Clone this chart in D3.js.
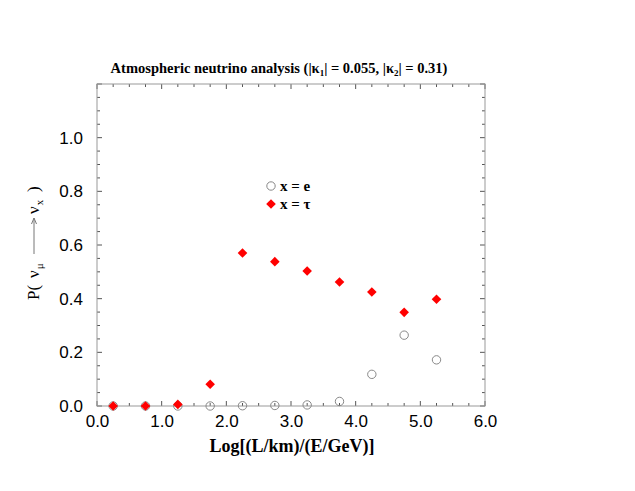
<!DOCTYPE html>
<html>
<head>
<meta charset="utf-8">
<script src="https://cdn.jsdelivr.net/npm/d3@7"></script>
<style>
  body { margin: 0; background: #fff; }
  svg { display: block; }
</style>
</head>
<body>
<div id="chart"></div>
<script>
// data
var xVals = [0.25, 0.75, 1.25, 1.75, 2.25, 2.75, 3.25, 3.75, 4.25, 4.75, 5.25];
var probE = [0, 0, 0, 0, 0.001, 0.002, 0.004, 0.017, 0.118, 0.264, 0.172];
var probTau = [0, 0, 0.006, 0.081, 0.570, 0.538, 0.503, 0.462, 0.425, 0.349, 0.398];
var xTicks = [0, 1, 2, 3, 4, 5, 6];
var yTicks = [0, 0.2, 0.4, 0.6, 0.8, 1.0];

var W = 635, H = 491;
var margin = {top: 84, right: 150, bottom: 85, left: 97};
var width = W - margin.left - margin.right,
    height = H - margin.top - margin.bottom;

var svg = d3.select("#chart").append("svg")
    .attr("width", W).attr("height", H);

var g = svg.append("g")
    .attr("transform", "translate(" + margin.left + "," + margin.top + ")");

var x = d3.scaleLinear().domain([0, 6]).range([0, width]);
var y = d3.scaleLinear().domain([0, 1.2]).range([height, 0]);

var frameColor = "#999";
var minorX = d3.range(0, 6.001, 0.25);
var minorY = d3.range(0, 1.2001, 0.05);
var isMajorX = d => Math.abs(d % 1) < 1e-6;
var isMajorY = d => Math.round(d * 100) % 20 === 0;

// bottom axis, ticks point inward
var axB = g.append("g").attr("transform", "translate(0," + height + ")");
axB.selectAll("line.t").data(minorX).enter().append("line")
    .attr("x1", d => x(d)).attr("x2", d => x(d))
    .attr("y1", 0).attr("y2", d => isMajorX(d) ? -5 : -3)
    .attr("stroke", "#555").attr("stroke-width", 1);
axB.call(d3.axisBottom(x).tickValues(xTicks).tickFormat(d3.format(".1f")).tickSize(0).tickPadding(9))
    .call(a => a.select(".domain").remove())
    .selectAll("text")
    .attr("font-family", "Liberation Sans, Arial, sans-serif")
    .attr("font-size", 17).attr("fill", "#000");

// top
var axT = g.append("g");
axT.selectAll("line").data(minorX).enter().append("line")
    .attr("x1", d => x(d)).attr("x2", d => x(d))
    .attr("y1", 0).attr("y2", d => isMajorX(d) ? 5 : 3)
    .attr("stroke", "#555").attr("stroke-width", 1);

// left
var axL = g.append("g");
axL.selectAll("line").data(minorY).enter().append("line")
    .attr("y1", d => y(d)).attr("y2", d => y(d))
    .attr("x1", 0).attr("x2", d => isMajorY(d) ? 5 : 3)
    .attr("stroke", "#555").attr("stroke-width", 1);
axL.call(d3.axisLeft(y).tickValues(yTicks).tickFormat(d3.format(".1f")).tickSize(0).tickPadding(14))
    .call(a => a.select(".domain").remove())
    .selectAll("text")
    .attr("font-family", "Liberation Sans, Arial, sans-serif")
    .attr("font-size", 17).attr("fill", "#000");

// right
var axR = g.append("g").attr("transform", "translate(" + width + ",0)");
axR.selectAll("line").data(minorY).enter().append("line")
    .attr("y1", d => y(d)).attr("y2", d => y(d))
    .attr("x1", 0).attr("x2", d => isMajorY(d) ? -5 : -3)
    .attr("stroke", "#555").attr("stroke-width", 1);

// frame
g.append("rect")
    .attr("width", width).attr("height", height)
    .attr("fill", "none").attr("stroke", frameColor).attr("stroke-width", 1);

// data: circles for x = e, diamonds for x = tau
var pts = xVals.map((v, i) => ({x: v, e: probE[i], t: probTau[i]}));

g.selectAll("circle.e").data(pts).enter().append("circle")
    .attr("class", "e")
    .attr("cx", d => x(d.x)).attr("cy", d => y(d.e)).attr("r", 4.2)
    .attr("fill", "none").attr("stroke", "#888").attr("stroke-width", 1);

var diamond = "M0,-4.8L4.8,0L0,4.8L-4.8,0Z";
g.selectAll("path.t").data(pts).enter().append("path")
    .attr("class", "t")
    .attr("d", diamond)
    .attr("transform", d => "translate(" + x(d.x) + "," + y(d.t) + ")")
    .attr("fill", "#ff0000");

// legend
var legend = svg.append("g").attr("font-family", "Liberation Serif, Times New Roman, serif")
    .attr("font-weight", "bold").attr("font-size", 15);
legend.append("circle").attr("cx", 271).attr("cy", 186).attr("r", 4.2)
    .attr("fill", "none").attr("stroke", "#888");
legend.append("text").attr("x", 280).attr("y", 191).text("x = e");
legend.append("path").attr("d", diamond).attr("transform", "translate(271,204)").attr("fill", "#ff0000");
legend.append("text").attr("x", 280).attr("y", 209).text("x = τ");

// title
var title = svg.append("text")
    .attr("x", 279).attr("y", 73).attr("text-anchor", "middle")
    .attr("font-family", "Liberation Serif, Times New Roman, serif")
    .attr("font-weight", "bold").attr("font-size", 14.5);
title.append("tspan").text("Atmospheric neutrino analysis (|κ");
title.append("tspan").attr("font-size", 9).attr("dy", 3).text("1");
title.append("tspan").attr("dy", -3).text("| = 0.055, |κ");
title.append("tspan").attr("font-size", 9).attr("dy", 3).text("2");
title.append("tspan").attr("dy", -3).text("| = 0.31)");

// x axis title
svg.append("text")
    .attr("x", 292).attr("y", 452).attr("text-anchor", "middle")
    .attr("font-family", "Liberation Serif, Times New Roman, serif")
    .attr("font-weight", "bold").attr("font-size", 18)
    .text("Log[(L/km)/(E/GeV)]");

// y axis title, rotated
var yl = svg.append("g").attr("transform", "translate(39,300) rotate(-90)")
    .attr("font-family", "Liberation Serif, Times New Roman, serif").attr("font-size", 17);
yl.append("text").attr("x", 0).attr("y", 0).text("P(");
var t1 = yl.append("text").attr("x", 22).attr("y", 0);
t1.append("tspan").text("ν");
t1.append("tspan").attr("font-size", 11).attr("dy", 4).attr("dx", 1).text("μ");
yl.append("line").attr("x1", 46).attr("x2", 82).attr("y1", -5).attr("y2", -5)
    .attr("stroke", "#777").attr("stroke-width", 1);
yl.append("path").attr("d", "M82,-5L76,-7.5M82,-5L76,-2.5")
    .attr("stroke", "#777").attr("fill", "none").attr("stroke-width", 1);
var t2 = yl.append("text").attr("x", 86).attr("y", 0);
t2.append("tspan").text("ν");
t2.append("tspan").attr("font-size", 11).attr("dy", 4).attr("dx", 1).text("x");
yl.append("text").attr("x", 108).attr("y", 0).text(")");
</script>
</body>
</html>
